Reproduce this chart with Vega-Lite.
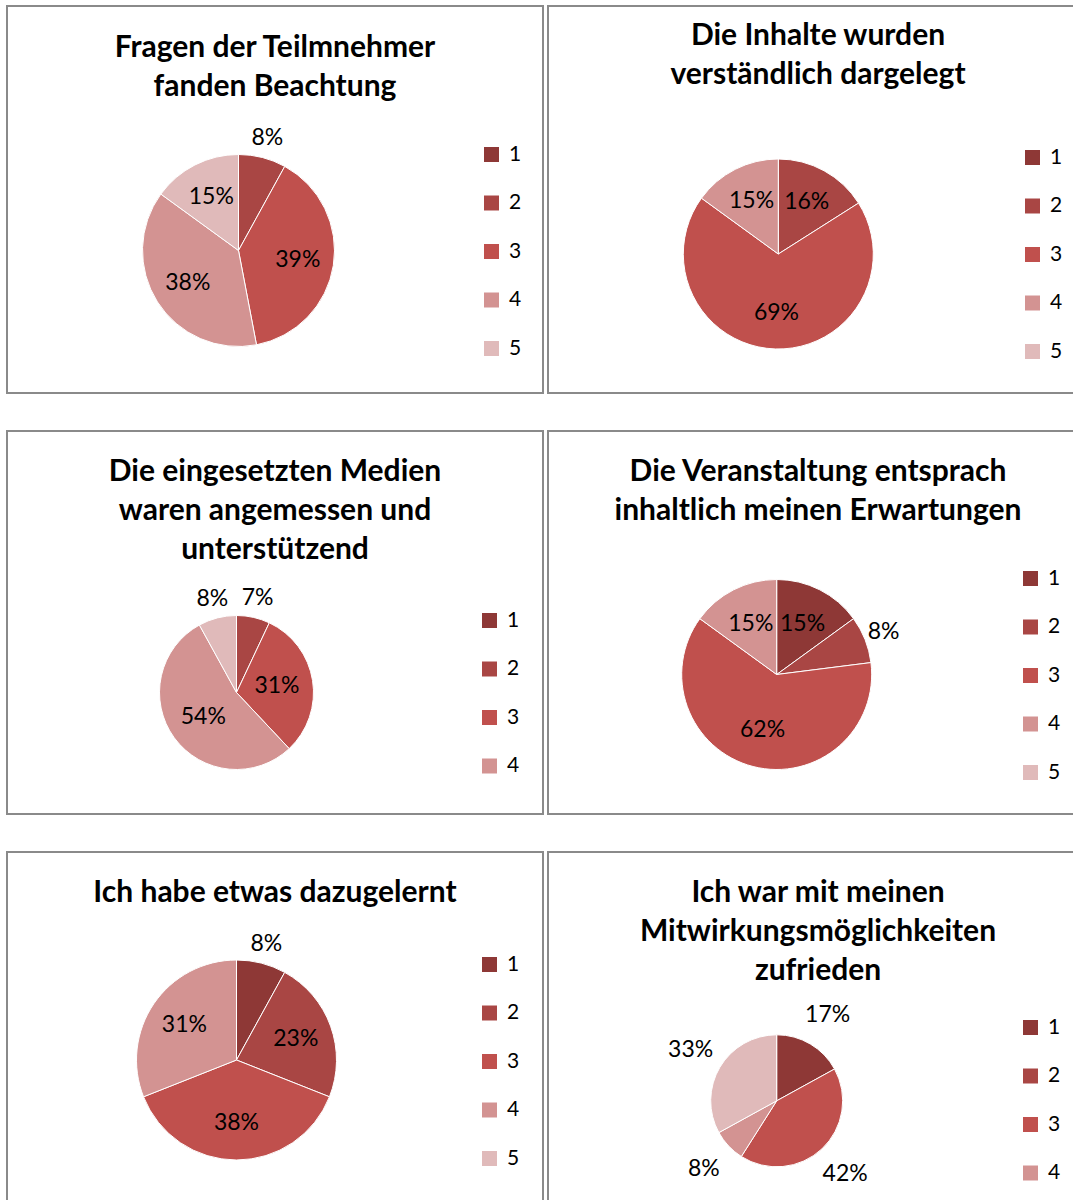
{
  "$schema": "https://vega.github.io/schema/vega-lite/v6.json",
  "padding": {"left": 6, "top": 5, "right": 0, "bottom": 0},
  "background": "white",
  "columns": 2,
  "spacing": {"row": 36, "column": 3},
  "align": "each",
  "resolve": {"scale": {"color": "independent", "theta": "independent"}, "legend": {"color": "independent"}},
  "config": {
    "font": "Lato",
    "view": {"stroke": "#8a8a8a", "strokeWidth": 2},
    "title": {"font": "Lato", "fontSize": 30, "fontWeight": "bold", "color": "#000000", "anchor": "middle", "frame": "group", "baseline": "top", "lineHeight": 39},
    "legend": {"orient": "none", "symbolType": "square", "symbolSize": 225, "symbolStrokeWidth": 0, "labelFontSize": 21, "labelFont": "Lato", "labelColor": "#000000", "labelOffset": 7, "rowPadding": 26.5},
    "text": {"font": "Lato", "fontSize": 23, "color": "#000000"}
  },
  "concat": [
    {
      "width": 536, "height": 387,
      "view": {"stroke": "#8a8a8a", "strokeWidth": 2},
      "title": {"text": ["Fragen der Teilmnehmer", "fanden Beachtung"], "offset": -96},
      "data": {"values": [{"cat": 2, "share": 0.08}, {"cat": 3, "share": 0.39}, {"cat": 4, "share": 0.38}, {"cat": 5, "share": 0.15}]},
      "encoding": {"theta": {"field": "share", "type": "quantitative", "stack": true}, "order": {"field": "cat", "type": "ordinal"}},
      "layer": [
        {"mark": {"type": "arc", "x": 231.5, "y": 244.5, "outerRadius": 96, "stroke": "#ffffff", "strokeWidth": 1},
         "encoding": {"color": {"field": "cat", "type": "ordinal", "scale": {"domain": [1, 2, 3, 4, 5], "range": ["#8E3836", "#A94644", "#C0504D", "#D39392", "#E0BABA"]}, "legend": {"title": null, "legendX": 474, "legendY": 138}}}},
        {"mark": {"type": "text", "x": 231.5, "y": 244.5, "radius": 60},
         "encoding": {"text": {"condition": {"test": "datum.share >= 0.1", "field": "share", "type": "quantitative", "format": ".0%"}, "value": ""}}},
        {"mark": {"type": "text", "x": 231.5, "y": 244.5, "radius": 116},
         "encoding": {"text": {"condition": {"test": "datum.share < 0.1", "field": "share", "type": "quantitative", "format": ".0%"}, "value": ""}}}
      ]
    },
    {
      "width": 540, "height": 387,
      "view": {"stroke": "#8a8a8a", "strokeWidth": 2},
      "title": {"text": ["Die Inhalte wurden", "verständlich dargelegt"], "offset": -84},
      "data": {"values": [{"cat": 2, "share": 0.16}, {"cat": 3, "share": 0.69}, {"cat": 4, "share": 0.15}]},
      "encoding": {"theta": {"field": "share", "type": "quantitative", "stack": true}, "order": {"field": "cat", "type": "ordinal"}},
      "layer": [
        {"mark": {"type": "arc", "x": 230.3, "y": 248, "outerRadius": 95, "stroke": "#ffffff", "strokeWidth": 1},
         "encoding": {"color": {"field": "cat", "type": "ordinal", "scale": {"domain": [1, 2, 3, 4, 5], "range": ["#8E3836", "#A94644", "#C0504D", "#D39392", "#E0BABA"]}, "legend": {"title": null, "legendX": 474, "legendY": 141}}}},
        {"mark": {"type": "text", "x": 230.3, "y": 248, "radius": 59},
         "encoding": {"text": {"condition": {"test": "datum.share >= 0.1", "field": "share", "type": "quantitative", "format": ".0%"}, "value": ""}}}
      ]
    },
    {
      "width": 536, "height": 383,
      "view": {"stroke": "#8a8a8a", "strokeWidth": 2},
      "title": {"text": ["Die eingesetzten Medien", "waren angemessen und", "unterstützend"], "offset": -134},
      "data": {"values": [{"cat": 2, "share": 0.07}, {"cat": 3, "share": 0.31}, {"cat": 4, "share": 0.54}, {"cat": 5, "share": 0.08}]},
      "encoding": {"theta": {"field": "share", "type": "quantitative", "stack": true}, "order": {"field": "cat", "type": "ordinal"}},
      "layer": [
        {"mark": {"type": "arc", "x": 229.5, "y": 261.5, "outerRadius": 77, "stroke": "#ffffff", "strokeWidth": 1},
         "encoding": {"color": {"field": "cat", "type": "ordinal", "scale": {"domain": [1, 2, 3, 4, 5], "range": ["#8E3836", "#A94644", "#C0504D", "#D39392", "#E0BABA"]}, "legend": {"title": null, "values": [1, 2, 3, 4], "legendX": 472, "legendY": 179}}}},
        {"mark": {"type": "text", "x": 229.5, "y": 261.5, "radius": 41},
         "encoding": {"text": {"condition": {"test": "datum.share >= 0.1", "field": "share", "type": "quantitative", "format": ".0%"}, "value": ""}}},
        {"mark": {"type": "text", "x": 229.5, "y": 261.5, "radius": 97},
         "encoding": {"text": {"condition": {"test": "datum.share < 0.1", "field": "share", "type": "quantitative", "format": ".0%"}, "value": ""}}}
      ]
    },
    {
      "width": 540, "height": 383,
      "view": {"stroke": "#8a8a8a", "strokeWidth": 2},
      "title": {"text": ["Die Veranstaltung entsprach", "inhaltlich meinen Erwartungen"], "offset": -95},
      "data": {"values": [{"cat": 1, "share": 0.15}, {"cat": 2, "share": 0.08}, {"cat": 3, "share": 0.62}, {"cat": 4, "share": 0.15}]},
      "encoding": {"theta": {"field": "share", "type": "quantitative", "stack": true}, "order": {"field": "cat", "type": "ordinal"}},
      "layer": [
        {"mark": {"type": "arc", "x": 228.7, "y": 243.5, "outerRadius": 95, "stroke": "#ffffff", "strokeWidth": 1},
         "encoding": {"color": {"field": "cat", "type": "ordinal", "scale": {"domain": [1, 2, 3, 4, 5], "range": ["#8E3836", "#A94644", "#C0504D", "#D39392", "#E0BABA"]}, "legend": {"title": null, "legendX": 472, "legendY": 137}}}},
        {"mark": {"type": "text", "x": 228.7, "y": 243.5, "radius": 57},
         "encoding": {"text": {"condition": {"test": "datum.share >= 0.1", "field": "share", "type": "quantitative", "format": ".0%"}, "value": ""}}},
        {"mark": {"type": "text", "x": 228.7, "y": 243.5, "radius": 115},
         "encoding": {"text": {"condition": {"test": "datum.share < 0.1", "field": "share", "type": "quantitative", "format": ".0%"}, "value": ""}}}
      ]
    },
    {
      "width": 536, "height": 386,
      "view": {"stroke": "#8a8a8a", "strokeWidth": 2},
      "title": {"text": ["Ich habe etwas dazugelernt"], "offset": -56},
      "data": {"values": [{"cat": 1, "share": 0.08}, {"cat": 2, "share": 0.23}, {"cat": 3, "share": 0.38}, {"cat": 4, "share": 0.31}]},
      "encoding": {"theta": {"field": "share", "type": "quantitative", "stack": true}, "order": {"field": "cat", "type": "ordinal"}},
      "layer": [
        {"mark": {"type": "arc", "x": 229.5, "y": 208, "outerRadius": 100, "stroke": "#ffffff", "strokeWidth": 1},
         "encoding": {"color": {"field": "cat", "type": "ordinal", "scale": {"domain": [1, 2, 3, 4, 5], "range": ["#8E3836", "#A94644", "#C0504D", "#D39392", "#E0BABA"]}, "legend": {"title": null, "legendX": 472, "legendY": 102}}}},
        {"mark": {"type": "text", "x": 229.5, "y": 208, "radius": 63},
         "encoding": {"text": {"condition": {"test": "datum.share >= 0.1", "field": "share", "type": "quantitative", "format": ".0%"}, "value": ""}}},
        {"mark": {"type": "text", "x": 229.5, "y": 208, "radius": 120},
         "encoding": {"text": {"condition": {"test": "datum.share < 0.1", "field": "share", "type": "quantitative", "format": ".0%"}, "value": ""}}}
      ]
    },
    {
      "width": 540, "height": 386,
      "view": {"stroke": "#8a8a8a", "strokeWidth": 2},
      "title": {"text": ["Ich war mit meinen", "Mitwirkungsmöglichkeiten", "zufrieden"], "offset": -134},
      "data": {"values": [{"cat": 1, "share": 0.17}, {"cat": 3, "share": 0.42}, {"cat": 4, "share": 0.08}, {"cat": 5, "share": 0.33}]},
      "encoding": {"theta": {"field": "share", "type": "quantitative", "stack": true}, "order": {"field": "cat", "type": "ordinal"}},
      "layer": [
        {"mark": {"type": "arc", "x": 228.7, "y": 248.8, "outerRadius": 66, "stroke": "#ffffff", "strokeWidth": 1},
         "encoding": {"color": {"field": "cat", "type": "ordinal", "scale": {"domain": [1, 2, 3, 4, 5], "range": ["#8E3836", "#A94644", "#C0504D", "#D39392", "#E0BABA"]}, "legend": {"title": null, "legendX": 472, "legendY": 165}}}},
        {"mark": {"type": "text", "x": 228.7, "y": 248.8, "radius": 100},
         "encoding": {"text": {"field": "share", "type": "quantitative", "format": ".0%"}}}
      ]
    }
  ]
}
